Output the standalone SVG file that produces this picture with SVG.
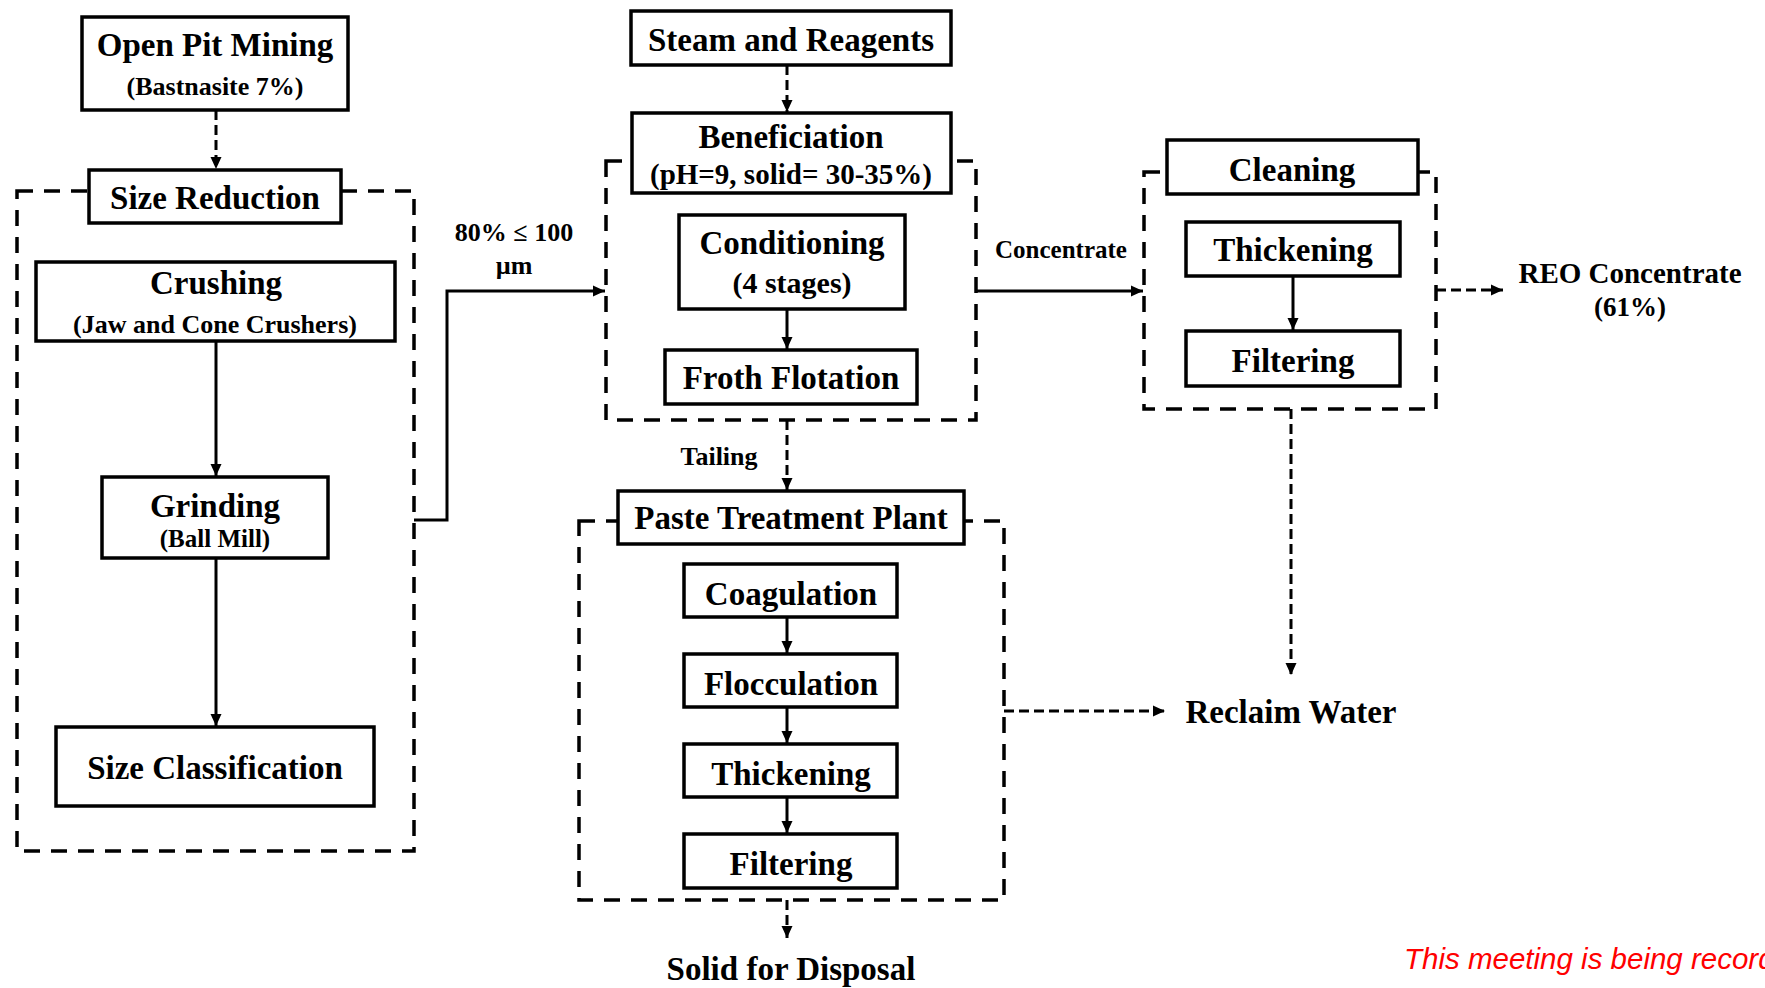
<svg xmlns="http://www.w3.org/2000/svg" width="1765" height="988" viewBox="0 0 1765 988">
<style>
.box{fill:#fff;stroke:#000;stroke-width:3.5}
.grp{fill:none;stroke:#000;stroke-width:3.5;stroke-dasharray:16 11}
.sol{fill:none;stroke:#000;stroke-width:3}
.dsh{fill:none;stroke:#000;stroke-width:3;stroke-dasharray:10 5}
text{font-family:"Liberation Serif","Times New Roman",serif;font-weight:bold;fill:#000;text-anchor:middle}
.t{font-size:33px}
.s{font-size:26px}
.rec{font-family:"Liberation Sans",Arial,sans-serif;font-weight:normal;font-style:italic;font-size:29.5px;fill:#ff0000;text-anchor:start}
</style>
<defs>
<marker id="ah" markerUnits="userSpaceOnUse" markerWidth="14" markerHeight="14" viewBox="0 0 14 14" refX="12" refY="7" orient="auto">
<path d="M0,1.5 L12,7 L0,12.5 Z" fill="#000"/>
</marker>
</defs>
<rect width="1765" height="988" fill="#fff"/>
<g id="groups">
<rect class="grp" x="17" y="191" width="397" height="660"/>
<rect class="grp" x="606" y="161" width="370" height="259"/>
<rect class="grp" x="1144" y="172" width="292" height="237"/>
<rect class="grp" x="579" y="521" width="425" height="379"/>
</g>
<g id="connectors">
<line class="dsh" x1="216" y1="110" x2="216" y2="169" marker-end="url(#ah)"/>
<line class="sol" x1="216" y1="341" x2="216" y2="476" marker-end="url(#ah)"/>
<line class="sol" x1="216" y1="558" x2="216" y2="726" marker-end="url(#ah)"/>
<polyline class="sol" points="414,520 447,520 447,291 605,291" marker-end="url(#ah)"/>
<line class="dsh" x1="787" y1="65" x2="787" y2="112" marker-end="url(#ah)"/>
<line class="sol" x1="787" y1="309" x2="787" y2="349" marker-end="url(#ah)"/>
<line class="dsh" x1="787" y1="420" x2="787" y2="490" marker-end="url(#ah)"/>
<line class="sol" x1="976" y1="291" x2="1143" y2="291" marker-end="url(#ah)"/>
<line class="dsh" x1="1436" y1="290" x2="1503" y2="290" marker-end="url(#ah)"/>
<line class="sol" x1="1293" y1="276" x2="1293" y2="330" marker-end="url(#ah)"/>
<line class="dsh" x1="1291" y1="409" x2="1291" y2="675" marker-end="url(#ah)"/>
<line class="sol" x1="787" y1="617" x2="787" y2="653" marker-end="url(#ah)"/>
<line class="sol" x1="787" y1="707" x2="787" y2="743" marker-end="url(#ah)"/>
<line class="sol" x1="787" y1="797" x2="787" y2="833" marker-end="url(#ah)"/>
<line class="dsh" x1="787" y1="900" x2="787" y2="938" marker-end="url(#ah)"/>
<line class="dsh" x1="1004" y1="711" x2="1165" y2="711" marker-end="url(#ah)"/>
<text class="s" x="514" y="241">80% ≤ 100</text>
<text class="s" x="514" y="274">µm</text>
<text class="s" x="1061" y="258" style="font-size:25px">Concentrate</text>
<text class="s" x="719" y="465">Tailing</text>
</g>
<g id="open-pit">
<rect class="box" x="82" y="17" width="266" height="93"/>
<text class="t" x="215" y="56">Open Pit Mining</text>
<text class="s" x="215" y="95">(Bastnasite 7%)</text>
</g>
<g id="size-reduction">
<rect class="box" x="89" y="170" width="252" height="53"/>
<text class="t" x="215" y="209">Size Reduction</text>
</g>
<g id="crushing">
<rect class="box" x="36" y="262" width="359" height="79"/>
<text class="t" x="216" y="294">Crushing</text>
<text class="s" x="215" y="333">(Jaw and Cone Crushers)</text>
</g>
<g id="grinding">
<rect class="box" x="102" y="477" width="226" height="81"/>
<text class="t" x="215" y="517">Grinding</text>
<text class="s" x="215" y="547" style="font-size:25px">(Ball Mill)</text>
</g>
<g id="size-classification">
<rect class="box" x="56" y="727" width="318" height="79"/>
<text class="t" x="215" y="779">Size Classification</text>
</g>
<g id="steam">
<rect class="box" x="631" y="11" width="320" height="54"/>
<text class="t" x="791" y="51">Steam and Reagents</text>
</g>
<g id="beneficiation">
<rect class="box" x="632" y="113" width="319" height="80"/>
<text class="t" x="791" y="148">Beneficiation</text>
<text class="s" x="791" y="184" style="font-size:29px">(pH=9, solid= 30-35%)</text>
</g>
<g id="conditioning">
<rect class="box" x="679" y="215" width="226" height="94"/>
<text class="t" x="792" y="254">Conditioning</text>
<text class="s" x="792" y="293" style="font-size:30px">(4 stages)</text>
</g>
<g id="froth">
<rect class="box" x="665" y="350" width="252" height="54"/>
<text class="t" x="791" y="389">Froth Flotation</text>
</g>
<g id="cleaning">
<rect class="box" x="1167" y="140" width="251" height="54"/>
<text class="t" x="1292" y="181">Cleaning</text>
</g>
<g id="thickening-1">
<rect class="box" x="1186" y="222" width="214" height="54"/>
<text class="t" x="1293" y="261">Thickening</text>
</g>
<g id="filtering-1">
<rect class="box" x="1186" y="331" width="214" height="55"/>
<text class="t" x="1293" y="372">Filtering</text>
</g>
<g id="reo">
<text class="s" x="1630" y="283" style="font-size:29px">REO Concentrate</text>
<text class="s" x="1630" y="316" style="font-size:27px">(61%)</text>
</g>
<g id="paste">
<rect class="box" x="618" y="491" width="346" height="53"/>
<text class="t" x="791" y="529">Paste Treatment Plant</text>
</g>
<g id="coagulation">
<rect class="box" x="684" y="564" width="213" height="53"/>
<text class="t" x="791" y="605">Coagulation</text>
</g>
<g id="flocculation">
<rect class="box" x="684" y="654" width="213" height="53"/>
<text class="t" x="791" y="695">Flocculation</text>
</g>
<g id="thickening-2">
<rect class="box" x="684" y="744" width="213" height="53"/>
<text class="t" x="791" y="785">Thickening</text>
</g>
<g id="filtering-2">
<rect class="box" x="684" y="834" width="213" height="54"/>
<text class="t" x="791" y="875">Filtering</text>
</g>
<g id="disposal">
<text class="t" x="791" y="980">Solid for Disposal</text>
</g>
<g id="reclaim">
<text class="t" x="1291" y="723">Reclaim Water</text>
</g>
<text class="rec" x="1404" y="969">This meeting is being recorded.</text>
</svg>
